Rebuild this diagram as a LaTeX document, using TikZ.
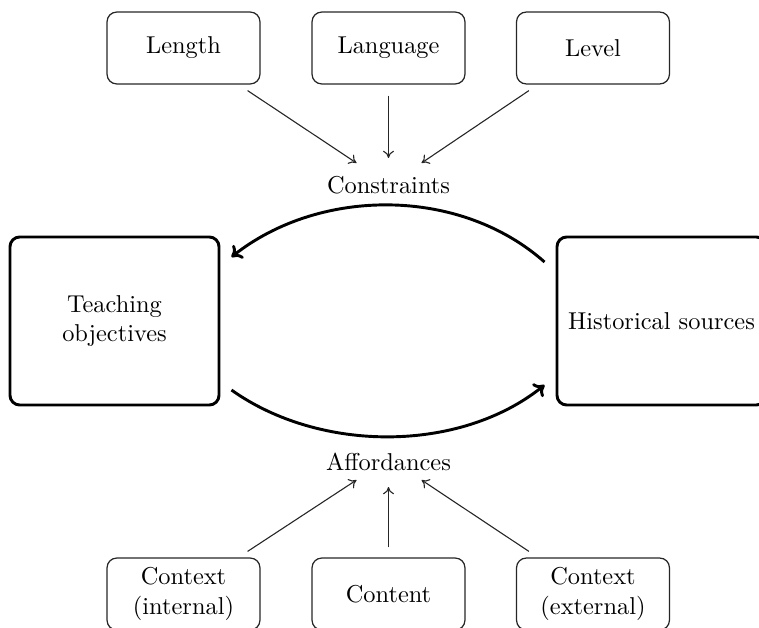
\documentclass[tikz,border=0pt]{standalone}
\usetikzlibrary{calc,arrows.meta}
\begin{document}
\begin{tikzpicture}[x=0.41pt,y=-0.41pt,
  smallbox/.style={draw=black!85, line width=0.5pt, rounded corners=4pt, minimum width=62.7pt, minimum height=29.5pt, align=center, inner sep=2pt},
  bigbox/.style={draw, line width=1.2pt, rounded corners=4pt, minimum width=85.7pt, minimum height=68.9pt, align=center, inner sep=2pt},
  label/.style={inner sep=0pt},
  thin arrow/.style={draw=black!85, line width=0.45pt, -{To[length=3pt,width=4.5pt]}},
  thick arrow/.style={line width=1.2pt, -{To[length=4pt,width=7pt]}}]
\useasboundingbox (0,0) rectangle (759,628);
\node[smallbox] (len) at (183.5,48) {Length};
\node[smallbox] (lang) at (388.5,48) {Language};
\node[smallbox] (lev) at (593,48) {Level};
\node[label] (cons) at (388.5,185) {Constraints};
\node[bigbox] (to) at (114.5,321) {Teaching\\objectives};
\node[bigbox] (hs) at (661.5,321) {Historical sources};
\node[label] (aff) at (388.5,462) {Affordances};
\node[smallbox] (ci) at (183.5,594) {Context\\(internal)};
\node[smallbox] (co) at (388.5,594) {Content};
\node[smallbox] (ce) at (593,594) {Context\\(external)};
\draw[thin arrow] ($(len.south east)+(-13,6)$) -- ($(cons)+(-32,-22)$);
\draw[thin arrow] ($(lang.south)+(0,11)$) -- ($(cons)+(0,-27)$);
\draw[thin arrow] ($(lev.south west)+(13,6)$) -- ($(cons)+(33,-22)$);
\draw[thin arrow] ($(ci.north east)+(-13,-6)$) -- ($(aff)+(-32,18)$);
\draw[thin arrow] ($(co.north)+(0,-10)$) -- ($(aff)+(0,25)$);
\draw[thin arrow] ($(ce.north west)+(13,-6)$) -- ($(aff)+(33,18)$);
\draw[thick arrow] ($(hs.west)+(-11,-59)$) .. controls (460,187) and (320,187) .. ($(to.east)+(11,-64)$);
\draw[thick arrow] ($(to.east)+(11,69)$) .. controls (320,453) and (460,453) .. ($(hs.west)+(-11,64)$);
\end{tikzpicture}
\end{document}
